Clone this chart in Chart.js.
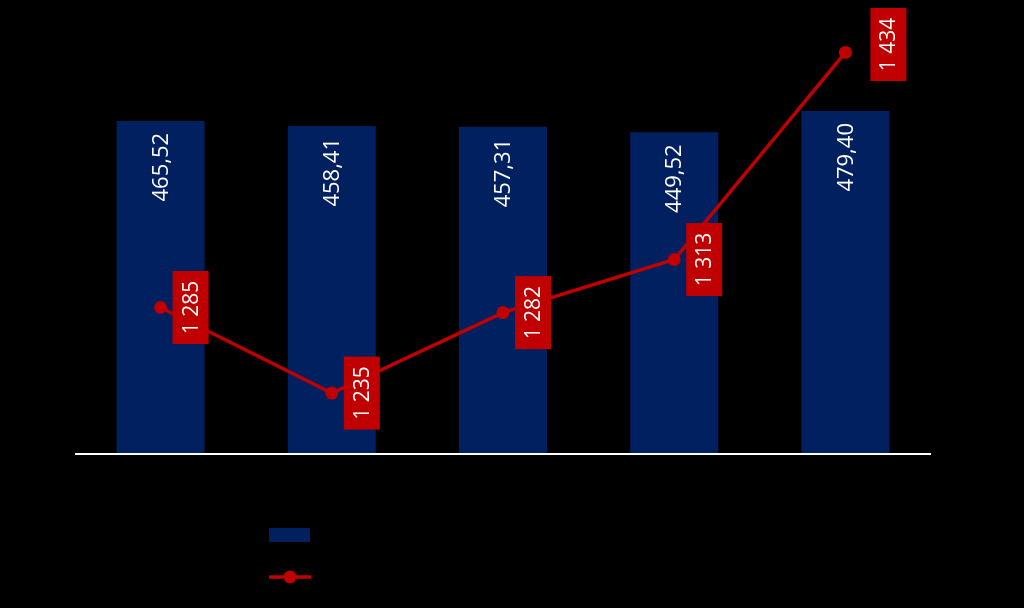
<!DOCTYPE html>
<html>
<head>
<meta charset="utf-8">
<script src="https://cdn.jsdelivr.net/npm/chart.js@4"></script>
<style>
  html, body { margin: 0; padding: 0; background: #000; }
  #wrap { width: 1024px; height: 608px; }
</style>
</head>
<body>
<div id="wrap"><canvas id="canvas" width="1024" height="608"></canvas></div>
<script>
// data
var categories = ["", "", "", "", ""];
var barValues = [465.52, 458.41, 457.31, 449.52, 479.40];
var lineValues = [1285, 1235, 1282, 1313, 1434];
var barName = "";
var lineName = "";

var BLUE = "#002060";
var RED = "#C00000";
var FONT = "'Open Sans', sans-serif";

function fmtBar(v) {
  return v.toFixed(2).replace(".", ",");
}
function fmtLine(v) {
  return String(v).replace(/\B(?=(\d{3})+(?!\d))/g, " ");
}

// labels, axis line and legend
var extras = {
  id: "extras",
  afterDatasetsDraw: function (chart) {
    var ctx = chart.ctx;
    var area = chart.chartArea;

    // base line
    ctx.save();
    ctx.strokeStyle = "#ffffff";
    ctx.lineWidth = 2;
    ctx.beginPath();
    ctx.moveTo(area.left, area.bottom + 1);
    ctx.lineTo(area.right, area.bottom + 1);
    ctx.stroke();
    ctx.restore();

    // bar values, rotated, near the top of each bar
    var bars = chart.getDatasetMeta(1).data;
    ctx.save();
    ctx.font = "22px " + FONT;
    ctx.fillStyle = "#ffffff";
    bars.forEach(function (bar, i) {
      ctx.save();
      ctx.translate(bar.x, bar.y + 12);
      ctx.rotate(-Math.PI / 2);
      ctx.textAlign = "right";
      ctx.textBaseline = "middle";
      ctx.fillText(fmtBar(barValues[i]), 0, 1);
      ctx.restore();
    });
    ctx.restore();

    // line values in red boxes to the right of each point
    var pts = chart.getDatasetMeta(0).data;
    ctx.save();
    ctx.font = "21px " + FONT;
    pts.forEach(function (p, i) {
      var w = 36, h = 73;
      var cx = p.x + 30;
      var cy = p.y;
      // last label sits further out, above the point
      if (i === pts.length - 1) {
        cx = p.x + 43;
        cy = p.y - 10;
      }
      cy = Math.max(cy, 8 + h / 2);
      ctx.fillStyle = RED;
      ctx.fillRect(cx - w / 2, cy - h / 2, w, h);
      ctx.save();
      ctx.translate(cx, cy);
      ctx.rotate(-Math.PI / 2);
      ctx.fillStyle = "#ffffff";
      ctx.textAlign = "center";
      ctx.textBaseline = "middle";
      ctx.fillText(fmtLine(lineValues[i]), 0, 1);
      ctx.restore();
    });
    ctx.restore();

    // legend
    ctx.save();
    ctx.fillStyle = BLUE;
    ctx.fillRect(269, 528, 41, 14);
    ctx.strokeStyle = RED;
    ctx.lineWidth = 3.5;
    ctx.beginPath();
    ctx.moveTo(269, 577);
    ctx.lineTo(311, 577);
    ctx.stroke();
    ctx.fillStyle = RED;
    ctx.beginPath();
    ctx.arc(290, 577, 6.5, 0, Math.PI * 2);
    ctx.fill();
    ctx.fillStyle = "#000000";
    ctx.font = "18px " + FONT;
    ctx.textBaseline = "middle";
    ctx.fillText(barName, 322, 535);
    ctx.fillText(lineName, 322, 577);
    ctx.restore();
  }
};

const ctx = document.getElementById("canvas").getContext("2d");

const myChart = new Chart(ctx, {
  type: "bar",
  data: {
    labels: categories,
    datasets: [
      {
        type: "line",
        label: lineName,
        data: lineValues,
        yAxisID: "y2",
        borderColor: RED,
        backgroundColor: RED,
        borderWidth: 3.5,
        pointRadius: 6.5,
        pointHoverRadius: 6.5,
        pointBackgroundColor: RED,
        pointBorderWidth: 0,
        tension: 0,
        order: 0,
      },
      {
        label: barName,
        data: barValues,
        yAxisID: "y",
        backgroundColor: BLUE,
        borderWidth: 0,
        categoryPercentage: 1,
        barPercentage: 0.514,
        order: 1,
      },
    ],
  },
  options: {
    responsive: false,
    animation: false,
    layout: {
      padding: { left: 75, right: 93, top: 25, bottom: 155 },
    },
    plugins: {
      legend: { display: false },
      tooltip: { enabled: false },
    },
    scales: {
      x: { display: false },
      y: { display: false, min: 0, max: 600 },
      y2: { display: false, min: 1200, max: 1450, position: "right" },
    },
  },
  plugins: [extras],
});
</script>
</body>
</html>
